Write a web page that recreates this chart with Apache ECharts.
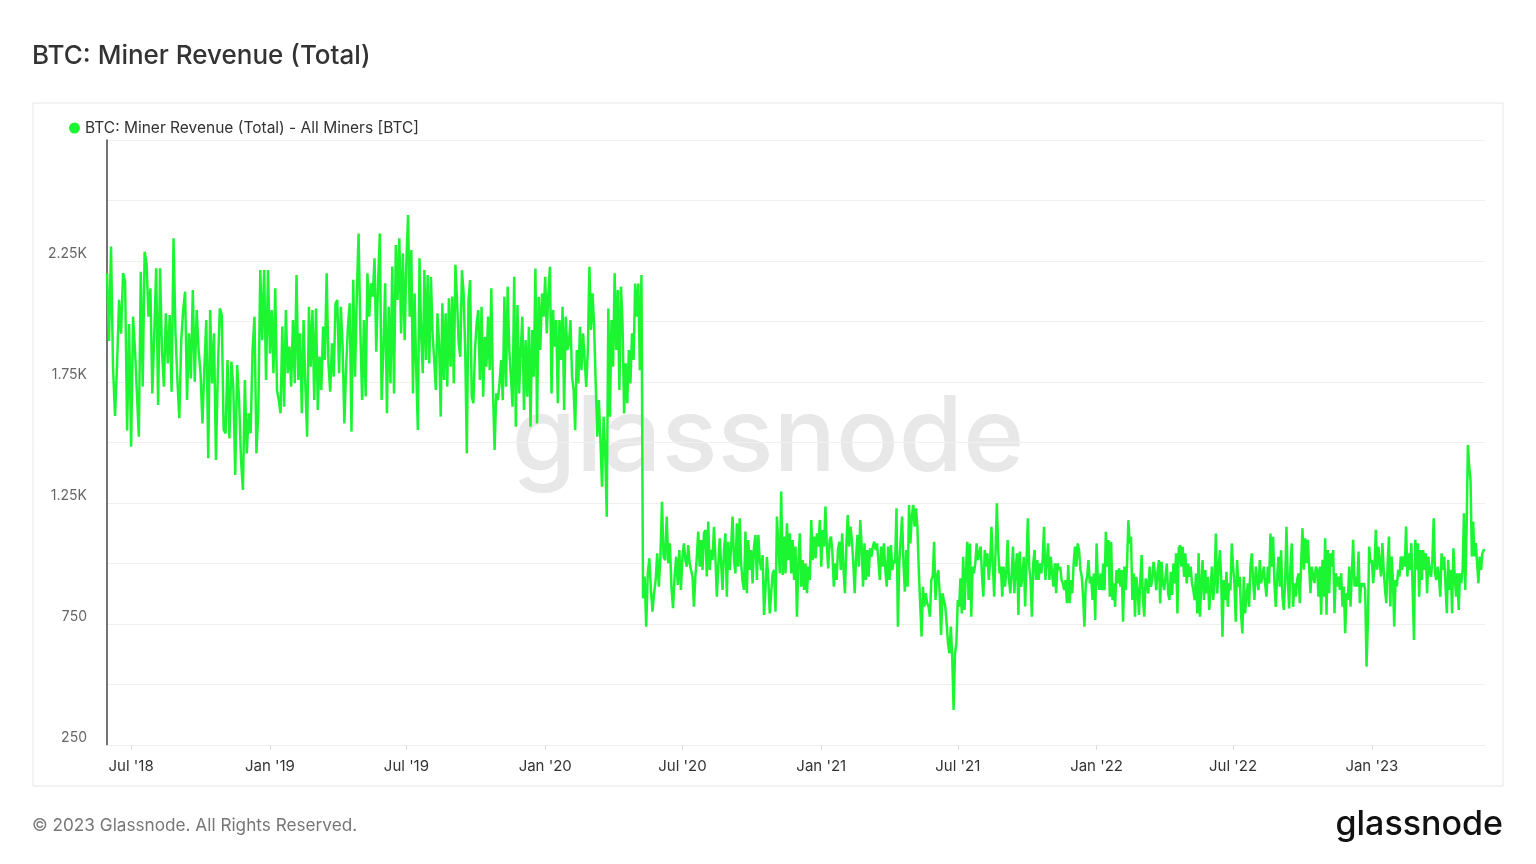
<!DOCTYPE html>
<html>
<head>
<meta charset="utf-8">
<script src="https://cdn.jsdelivr.net/npm/echarts@6/dist/echarts.min.js"></script>
<style>
html,body{margin:0;padding:0;background:#fff;}
#chart{width:1536px;height:864px;}
</style>
</head>
<body>
<div id="chart"></div>
<script>
// Segment boundaries (dates) for the value arrays below
const segBounds = [[2018,4,30],[2018,6,1],[2019,0,1],[2019,6,1],[2020,0,1],[2020,6,1],[2021,0,1],[2021,6,1],[2022,0,1],[2022,6,1],[2023,0,1],[2023,4,31]];

// BTC miner revenue (BTC), per segment
const rev2018a = [2200,1920,2310,1810,1610,1820,2090,1950,2200,2165,1550,1990];
const rev2018b = [1483,2020,1882,1703,1524,2206,1731,2288,2240,2020,2137,1703,1951,2220,1655,2220,1882,1731,2034,1827,2027,1710,2344,1951,1758,1600,1923,2047,2123,1676,1951,1765,2130,1751,2047,1882,1786,1579,1813,2006,1435,2047,1744,1951,1428,1800,2054,2027,1552,1538,1841,1517,1834,1731,1366,1820,1676,1428,1304,1758,1455,1621,1538,1882,2020,1455,1634,2213,1923,2213,1758,2213];
const rev2019a = [1868,2047,1786,2137,1717,1676,1621,1979,1648,2047,1786,1896,1731,2006,1745,2192,1758,1951,1621,2006,1731,1524,2061,1813,2047,1676,2054,1634,1855,1717,1979,1841,2199,1827,1710,1910,1772,2075,2089,1786,2061,1896,1579,1813,1979,2075,1545,2172,1772,2103,2364,1965,1676,2006,1690,2199,2020,2158,2103,2261,1875,2158,2364,1676,1882,2158,1621,2061,1745,2227,1703,2316,2089,2344,1951,2282,1923];
const rev2019b = [2254,2440,2020,2295,1703,2116,1800,1552,2261,1951,1786,2213,1841,2192,1827,2185,1951,1841,1717,2034,1910,1607,2075,1758,2034,1731,2096,1813,2103,1745,2234,2089,1909,1854,2212,2116,1882,1455,2088,2171,1689,1662,1882,1992,2047,1758,2061,1689,1937,1813,2020,1799,2137,1717,1469,1703,1675,1744,1841,1675,2102,1730,2144,1882,1772,1648,2185,1565,2068,1703,1882,2020,1634,1923,1689,1978,1565,1965,1772,2219,1579,2102,1882,2116,2020];
const rev2020a = [2185,1951,2116,2226,1703,2047,1896,2006,1662,2006,1841,2061,1634,2020,1882,1909,2006,1772,1717,1551,1882,1744,1978,1799,1951,1841,1730,1882,2226,1965,2116,1978,1744,1524,1675,1510,1317,1606,1469,1193,2054,1606,2006,1813,2199,1882,2130,1717,2144,1992,1620,1827,1662,1882,1744,1951,1841,2157,2020,2157,1799,2192,856,946,739,959,1021,891,801,877,932,1042,904,1028,1255,1028,1014,1194,1001,1083,904,815,946,1028,911,1056,891];
const rev2020b = [1028,1083,1014,987,1076,1001,973,946,822,946,1028,1132,987,1097,973,1125,1138,946,1173,973,1056,1014,1152,1028,863,987,1104,1001,891,1056,1125,863,1090,973,1070,1194,1014,959,1166,987,1187,1001,925,891,1132,877,1097,973,1056,918,1070,1118,932,1118,1014,973,1035,787,891,1028,932,794,877,959,973,801,1194,1200,959,1297,953,1111,959,1166,1014,1125,959,1097,932,1070,780,1001,1125,904,1014,891,1001,877,987,932,1180,1014,1111,1021,1125,1070,1180];
const rev2021a = [987,1138,1070,1235,1070,980,1097,1111,1042,904,1001,932,1056,1090,973,1125,973,877,1070,1200,1070,1152,1097,1001,877,1028,1118,987,1180,1070,904,1083,932,1056,946,1063,1028,1070,1090,1056,1083,1014,932,1070,987,1083,973,904,1070,932,1076,973,1014,1001,1228,739,1001,1097,1194,1001,884,1056,904,1242,1083,1194,1242,1152,1228,1152,973,836,698,904,822,877,836,822,780,932,946,1090,849,946,973,877,705,877,849,822,753,670,629,739,615,395,629,670];
const rev2021b = [849,822,939,794,1028,808,959,1090,849,1083,780,987,959,1001,1083,1014,1042,1070,946,863,1056,987,1042,932,1001,1152,1001,863,1042,1249,1056,959,987,863,987,904,959,1097,932,877,959,1070,877,987,1042,787,1049,904,946,1028,822,1001,1187,987,932,780,1001,1056,932,1014,932,1001,959,1014,1152,932,1001,1083,932,1028,959,904,1001,877,1001,973,987,932,918,891,932,836,994,836,932,877,1001,1070,987,1083,1056,973,946,863,739,918,946,1014,918,946,849,959,767];
const rev2022a = [1083,932,891,959,890,1000,890,1131,987,1097,863,1090,849,918,821,973,918,980,904,973,759,987,890,1000,1179,1083,1110,849,959,780,945,890,787,932,1035,849,780,938,918,876,987,904,932,1007,959,890,966,1014,835,1007,918,890,945,1000,876,849,966,870,1000,918,1042,794,1062,1076,987,1069,945,1042,918,1000,945,987,918,890,849,959,794,1042,780,918,1014,849,973,876,945,808,890,987,849,918,1124,876,973,1055,945,697,932,849,966,821,918,890,1083];
const rev2022b = [987,918,759,1014,904,945,787,711,945,794,863,918,821,987,1042,932,849,987,932,890,1014,918,945,987,918,863,987,918,1124,987,1110,918,821,945,1028,904,1055,863,808,918,1152,932,814,987,1083,821,918,863,932,959,836,1001,1146,974,1104,1001,1098,987,877,987,946,919,987,974,863,987,788,1015,863,1104,788,1056,877,1042,987,1056,795,960,905,946,891,960,822,905,712,877,850,987,822,960,1098,905,946,905,1049,836,919,905,919,891,574,753,1070,1001];
const rev2023a = [1015,919,987,1139,974,1070,1001,946,1084,974,891,836,1001,1111,822,1029,932,740,932,905,974,946,1029,974,1029,987,1153,946,1042,974,1084,891,684,1098,974,1084,863,1056,932,1056,974,1042,877,1029,960,946,1015,1187,960,932,987,946,863,1042,974,1029,905,795,1015,891,974,795,1063,946,863,960,808,960,919,974,1208,891,1139,1490,1401,1345,1029,1173,1029,1084,1001,919,1029,974,1042,1056,1056];

// Axis ticks
const xTickDates = [[2018,6,1],[2019,0,1],[2019,6,1],[2020,0,1],[2020,6,1],[2021,0,1],[2021,6,1],[2022,0,1],[2022,6,1],[2023,0,1]];
const xTickLabels = ["Jul '18","Jan '19","Jul '19","Jan '20","Jul '20","Jan '21","Jul '21","Jan '22","Jul '22","Jan '23"];
const yLabelValues = [250, 750, 1250, 1750, 2250];
const yLabelTexts = ["250", "750", "1.25K", "1.75K", "2.25K"];

const toMs = a => Date.UTC(a[0], a[1], a[2]);
const segs = [rev2018a, rev2018b, rev2019a, rev2019b, rev2020a, rev2020b, rev2021a, rev2021b, rev2022a, rev2022b, rev2023a];
const data = [];
segs.forEach((arr, k) => {
  const s = toMs(segBounds[k]), e = toMs(segBounds[k + 1]);
  const last = k === segs.length - 1;
  const step = (e - s) / (last ? arr.length - 1 : arr.length);
  arr.forEach((v, i) => data.push([s + i * step, v]));
});
const tickMs = xTickDates.map(toMs);
const GREEN = '#1cf532';

const chart = echarts.init(document.getElementById('chart'), null, {renderer: 'canvas'});
chart.setOption({
  animation: false,
  backgroundColor: '#fff',
  title: {
    text: 'BTC: Miner Revenue (Total)',
    left: 27, top: 38,
    textStyle: {fontFamily: 'Inter', fontSize: 26, fontWeight: 500, color: '#333'}
  },
  legend: {
    left: 64, top: 115,
    icon: 'circle', itemWidth: 11, itemHeight: 11, itemGap: 6,
    textStyle: {fontFamily: 'Inter', fontSize: 15.5, color: '#333'},
    data: ['BTC: Miner Revenue (Total) - All Miners [BTC]']
  },
  graphic: [
    {type: 'rect', z: -10, shape: {x: 33, y: 103, width: 1470, height: 683}, style: {fill: 'none', stroke: '#e6e6e6', lineWidth: 1}},
    {type: 'text', z: 0, x: 768, y: 440, style: {text: 'glassnode', fontFamily: 'Inter', fontSize: 104, fontWeight: 500, fill: '#e8e8e8', textAlign: 'center', textVerticalAlign: 'middle'}},
    {type: 'text', x: 32, y: 826, style: {text: '© 2023 Glassnode. All Rights Reserved.', fontFamily: 'Inter', fontSize: 17.2, fill: '#777', textAlign: 'left', textVerticalAlign: 'middle'}},
    {type: 'text', x: 1503, y: 825, style: {text: 'glassnode', fontFamily: 'Inter', fontSize: 34, fontWeight: 500, fill: '#111', textAlign: 'right', textVerticalAlign: 'middle'}}
  ],
  grid: {left: 107, right: 51, top: 140, bottom: 119},
  xAxis: {
    type: 'value',
    min: toMs(segBounds[0]),
    max: toMs(segBounds[segBounds.length - 1]),
    axisLine: {show: true, lineStyle: {color: '#eeeeee'}},
    axisTick: {show: true, length: 5, lineStyle: {color: '#dddddd'}, customValues: tickMs},
    splitLine: {show: false},
    axisLabel: {
      customValues: tickMs,
      margin: 14,
      fontFamily: 'Inter', fontSize: 15, color: '#333',
      formatter: function (v) {
        for (let i = 0; i < tickMs.length; i++) {
          if (Math.abs(tickMs[i] - v) < 43200000) return xTickLabels[i];
        }
        return '';
      }
    }
  },
  yAxis: {
    type: 'value',
    min: 250, max: 2750, interval: 250,
    axisLine: {show: true, lineStyle: {color: '#444', width: 1.5}},
    axisTick: {show: false},
    splitLine: {show: true, lineStyle: {color: '#f0f0f0', width: 1}},
    axisLabel: {
      margin: 20,
      fontFamily: 'Inter', fontSize: 14, color: '#666',
      verticalAlign: 'bottom',
      formatter: function (v) {
        const i = yLabelValues.indexOf(v);
        return i >= 0 ? yLabelTexts[i] : '';
      }
    }
  },
  series: [{
    name: 'BTC: Miner Revenue (Total) - All Miners [BTC]',
    type: 'line',
    data: data,
    showSymbol: false,
    symbol: 'circle',
    z: 5,
    itemStyle: {color: GREEN},
    lineStyle: {color: GREEN, width: 2.5},
    sampling: null
  }]
});
</script>
</body>
</html>
